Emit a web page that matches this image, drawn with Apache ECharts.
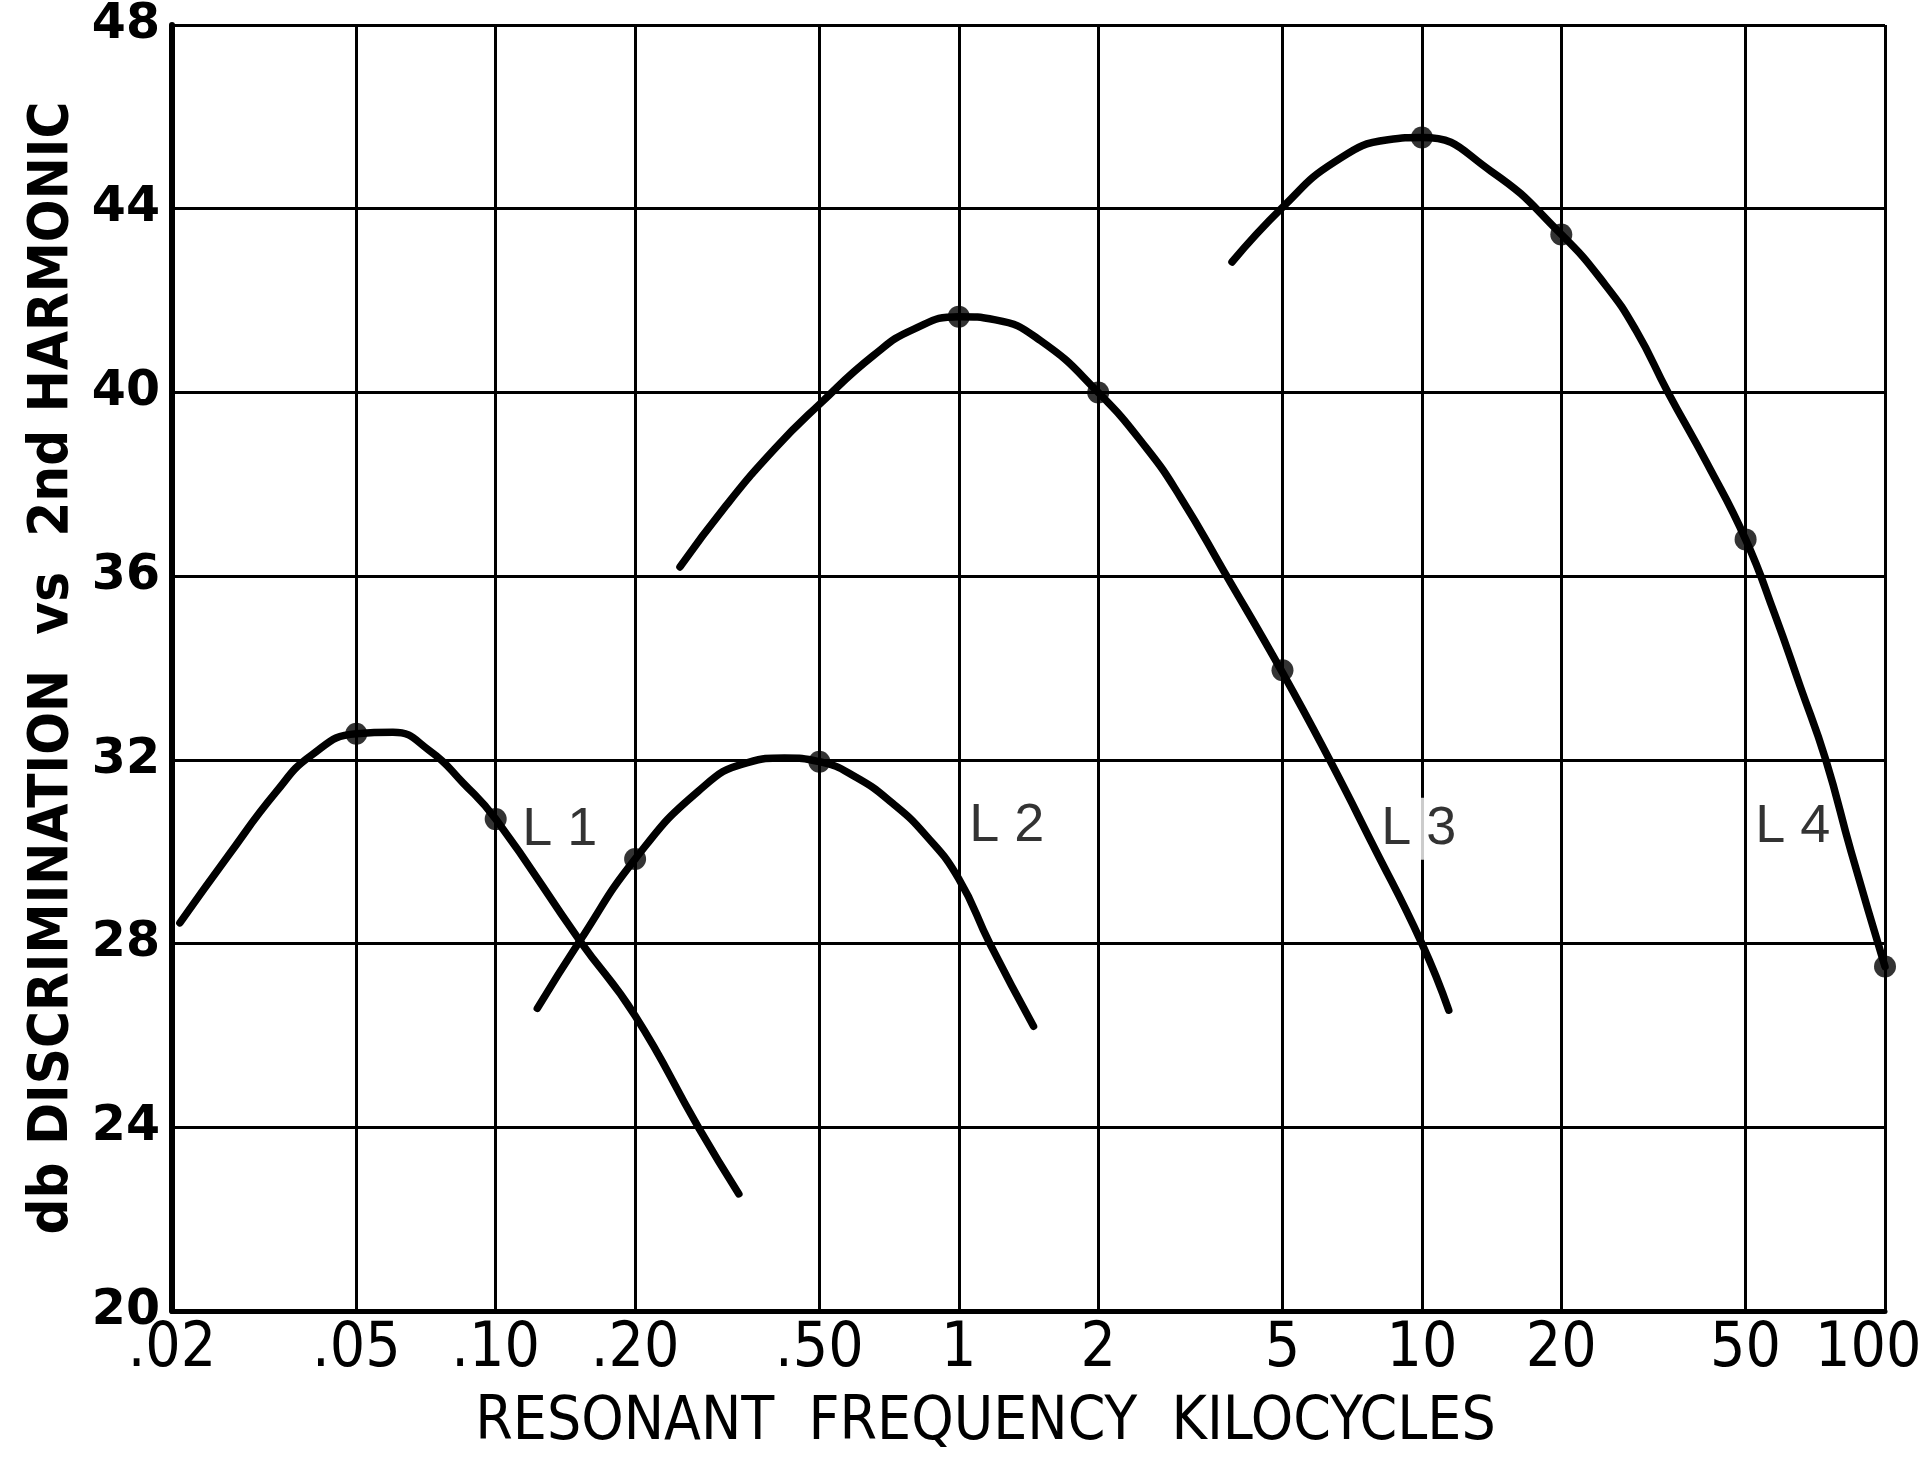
<!DOCTYPE html>
<html>
<head>
<meta charset="utf-8">
<title>db Discrimination vs 2nd Harmonic</title>
<script src="https://cdn.jsdelivr.net/npm/echarts@6/dist/echarts.min.js"></script>
<style>
  html, body { margin: 0; padding: 0; background: #fff; }
  #chart { width: 1925px; height: 1465px; }
</style>
</head>
<body>
<div id="chart"></div>
<script>
// x axis ticks (kilocycles) and their printed labels
const freqTicks = [0.02, 0.05, 0.1, 0.2, 0.5, 1, 2, 5, 10, 20, 50, 100]
const freqLabels = ['.02', '.05', '.10', '.20', '.50', '1', '2', '5', '10', '20', '50', '100']

// curves: [frequency kc, db]
const curveL1 = [
  [0.0208, 28.45], [0.0264, 29.9], [0.0335, 31.29], [0.04, 32.1], [0.05, 32.57],
  [0.06, 32.6], [0.072, 32.2], [0.085, 31.5], [0.1, 30.71], [0.152, 28.06],
  [0.2, 26.43], [0.274, 24.0], [0.335, 22.55]
]
const curveL2 = [
  [0.123, 26.59], [0.152, 28.06], [0.2, 29.84], [0.274, 31.32], [0.35, 31.94],
  [0.42, 32.04], [0.5, 31.96], [0.6, 31.62], [0.72, 31.05], [0.85, 30.35],
  [1.0, 29.41], [1.167, 28.0], [1.45, 26.2]
]
const curveL3 = [
  [0.25, 36.2], [0.314, 37.53], [0.401, 38.78], [0.5, 39.74], [0.655, 40.81],
  [0.8, 41.38], [1.0, 41.65], [1.2, 41.58], [1.5, 41.13], [2.0, 40.0],
  [2.55, 38.77], [3.01, 37.72], [3.74, 36.1], [5.0, 33.9], [6.32, 32.0],
  [7.79, 30.2], [10, 28.0], [11.43, 26.55]
]
const curveL4 = [
  [3.89, 42.84], [5.0, 44.03], [6.48, 45.02], [8.45, 45.5], [10, 45.55],
  [14.09, 44.82], [20, 43.44], [24.9, 42.34], [29, 41.35], [34, 40.0],
  [41.3, 38.45], [50, 36.8], [57.8, 35.17], [65.6, 33.6], [74.5, 32.0],
  [84.5, 30.0], [100, 27.5]
]

// measured points (dots)
const dotFreq = [0.05, 0.1, 0.2, 0.5, 1, 2, 5, 10, 20, 50, 100]
const dotDb = [32.57, 30.71, 29.84, 31.96, 41.65, 40.0, 33.95, 45.55, 43.44, 36.8, 27.5]

// curve labels
const labelNames = ['L 1', 'L 2', 'L 3', 'L 4']
const labelFreq = [0.1375, 1.27, 9.85, 63.2]
const labelDb = [30.47, 30.56, 30.5, 30.53]

const condensed = '"Liberation Sans Narrow", "DejaVu Sans Condensed", "Roboto", sans-serif'

const chart = echarts.init(document.getElementById('chart'))

// one smooth black line per curve
const curveSeries = [curveL1, curveL2, curveL3, curveL4].map(data => ({
  type: 'line',
  data: data,
  smooth: 0.5,
  showSymbol: false,
  silent: true,
  lineStyle: { color: '#000', width: 7.5, cap: 'round' },
  z: 3
}))

const options = {
  backgroundColor: '#fff',
  animation: false,
  grid: { left: 172, right: 40, top: 25, bottom: 154, outerBoundsMode: 'none' },
  xAxis: {
    type: 'log',
    logBase: 10,
    min: 0.02,
    max: 100,
    name: 'RESONANT  FREQUENCY  KILOCYCLES',
    nameLocation: 'middle',
    nameGap: 82,
    nameTextStyle: {
      color: '#000',
      fontFamily: condensed,
      fontSize: 60,
      padding: [0, 86, 0, 0]
    },
    axisLine: { show: true, lineStyle: { color: '#000', width: 5 } },
    axisTick: { show: false, customValues: freqTicks },
    axisLabel: {
      customValues: freqTicks,
      color: '#000',
      fontFamily: condensed,
      fontSize: 62,
      margin: 8,
      formatter: v => {
        const i = freqTicks.findIndex(t => Math.abs(v - t) / t < 1e-6)
        if (i < 0) return ''
        // last label is pulled in so it stays on the page
        return i === freqTicks.length - 1 ? '{last|' + freqLabels[i] + '}' : freqLabels[i]
      },
      rich: {
        last: {
          color: '#000',
          fontFamily: condensed,
          fontSize: 62,
          width: 140,
          align: 'left'
        }
      }
    },
    splitLine: { show: true, lineStyle: { color: '#000', width: 3 } }
  },
  yAxis: {
    type: 'value',
    min: 20,
    max: 48,
    interval: 4,
    name: 'db DISCRIMINATION  vs  2nd HARMONIC',
    nameLocation: 'middle',
    nameGap: 92,
    nameTextStyle: {
      color: '#000',
      fontFamily: condensed,
      fontWeight: 'bold',
      fontSize: 56
    },
    axisLine: { show: true, lineStyle: { color: '#000', width: 6 } },
    axisTick: { show: false },
    axisLabel: {
      color: '#000',
      fontFamily: '"DejaVu Sans", sans-serif',
      fontWeight: 'bold',
      fontSize: 49,
      margin: 12
    },
    splitLine: { show: true, lineStyle: { color: '#000', width: 3 } }
  },
  series: [
    ...curveSeries,
    {
      type: 'scatter',
      data: dotFreq.map((f, i) => [f, dotDb[i]]),
      symbol: 'circle',
      symbolSize: 22,
      itemStyle: { color: '#000' },
      silent: true,
      z: 4
    },
    {
      // labels sit under the curves but over the grid
      type: 'scatter',
      data: labelFreq.map((f, i) => ({ value: [f, labelDb[i]], name: labelNames[i] })),
      symbolSize: 1,
      itemStyle: { color: 'transparent' },
      silent: true,
      z: 2,
      label: {
        show: true,
        position: 'inside',
        formatter: p => p.name,
        color: '#000',
        fontFamily: '"Liberation Sans", "DejaVu Sans", sans-serif',
        fontSize: 54,
        backgroundColor: '#fff',
        padding: [4, 6]
      }
    }
  ]
}
chart.setOption(options)
</script>
</body>
</html>
